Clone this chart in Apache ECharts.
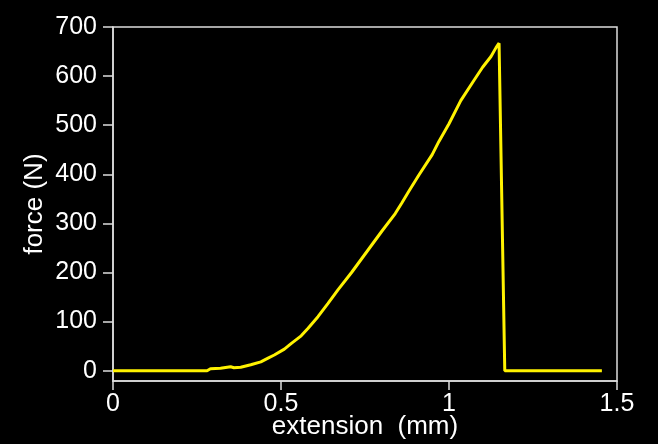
<!DOCTYPE html>
<html>
<head>
<meta charset="utf-8">
<script src="https://cdn.jsdelivr.net/npm/echarts@6/dist/echarts.min.js"></script>
<style>
  html,body{margin:0;padding:0;background:#000;}
  #main{width:658px;height:444px;}
</style>
</head>
<body>
<div id="main"></div>
<script>
/* force vs extension curve */
var extension = [0, 0.28, 0.29, 0.32, 0.35, 0.36, 0.38, 0.41, 0.44, 0.46, 0.48, 0.51, 0.53, 0.56, 0.58, 0.61, 0.64, 0.67, 0.71, 0.74, 0.77, 0.80, 0.84, 0.86, 0.88, 0.91, 0.95, 0.97, 1.0, 1.035, 1.075, 1.10, 1.125, 1.14, 1.149, 1.152, 1.166, 1.455];
var force = [0, 0, 4, 5, 8, 6, 7, 12, 18, 25, 32, 44, 55, 71, 86, 110, 137, 165, 200, 228, 256, 284, 320, 342, 365, 398, 440, 467, 503, 550, 592, 618, 640, 658, 667, 667, 0, 0];
var xTicks = [0, 0.5, 1, 1.5];
var yTicks = [0, 100, 200, 300, 400, 500, 600, 700];

var points = [];
for (var i = 0; i < extension.length; i++) {
    points.push([extension[i], force[i]]);
}

var font = '"Liberation Sans", Arial, Helvetica, sans-serif';
var axisColor = '#dddddd';

var myChart = echarts.init(document.getElementById('main'));
var option = {
    backgroundColor: '#000',
    animation: false,
    grid: {
        left: 113, top: 27, right: 41, bottom: 63,
        outerBoundsMode: 'none',
        containLabel: false,
        show: true,
        borderColor: axisColor,
        borderWidth: 1.5
    },
    xAxis: {
        type: 'value',
        min: 0, max: 1.5, interval: 0.5,
        name: 'extension  (mm)',
        nameLocation: 'middle',
        nameGap: 33,
        nameMoveOverlap: false,
        nameTextStyle: {color: '#fff', fontSize: 26, fontFamily: font},
        axisLine: {show: true, onZero: false, lineStyle: {color: axisColor, width: 1.5}},
        axisTick: {show: true, inside: false, length: 9, lineStyle: {color: axisColor, width: 1.5}},
        axisLabel: {
            color: '#fff', fontSize: 25, fontFamily: font, margin: 11,
            customValues: xTicks
        },
        splitLine: {show: false}
    },
    yAxis: {
        type: 'value',
        min: -21, max: 700,
        name: 'force (N)',
        nameLocation: 'middle',
        nameGap: 65,
        nameMoveOverlap: false,
        nameTextStyle: {color: '#fff', fontSize: 26, fontFamily: font},
        axisLine: {show: true, onZero: false, lineStyle: {color: axisColor, width: 1.5}},
        axisTick: {show: true, inside: false, length: 10, lineStyle: {color: axisColor, width: 1.5}, customValues: yTicks},
        axisLabel: {
            color: '#fff', fontSize: 25, fontFamily: font, margin: 16,
            customValues: yTicks
        },
        splitLine: {show: false}
    },
    series: [{
        type: 'line',
        data: points,
        showSymbol: false,
        lineStyle: {color: '#fff200', width: 3},
        itemStyle: {color: '#fff200'}
    }]
};
myChart.setOption(option);
</script>
</body>
</html>
